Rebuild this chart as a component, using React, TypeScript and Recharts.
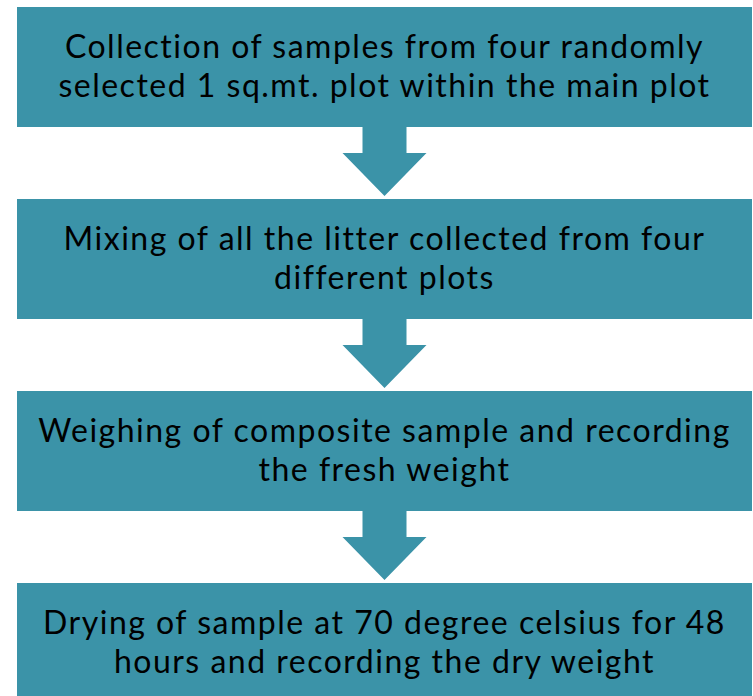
import { BarChart, Bar, XAxis, YAxis, LabelList } from 'recharts';

// four steps of the litter sampling procedure, top to bottom
const steps = ['collect', 'mix', 'weigh', 'dry'];
const stepSpan = [1, 1, 1, 1];
const stepLines = [
  ['Collection of samples from four randomly', 'selected 1 sq.mt. plot within the main plot'],
  ['Mixing of all the litter collected from four', 'different plots'],
  ['Weighing of composite sample and recording', 'the fresh weight'],
  ['Drying of sample at 70 degree celsius for 48', 'hours and recording the dry weight'],
];

const TEAL = '#3b93a8';

const data = steps.map((s, i) => ({ step: s, span: stepSpan[i], lines: stepLines[i] }));

function StepBox(props: any) {
  const { x, y, width, height, index } = props;
  const cx = x + width / 2;
  const yb = y + height;
  const last = index === steps.length - 1;
  const arrow = [
    [cx - 22, yb],
    [cx + 22, yb],
    [cx + 22, yb + 26],
    [cx + 42, yb + 26],
    [cx, yb + 69],
    [cx - 42, yb + 26],
    [cx - 22, yb + 26],
  ].map(p => p.join(',')).join(' ');
  return (
    <g>
      <rect x={x} y={y} width={width} height={height} fill={TEAL} />
      {!last && <polygon points={arrow} fill={TEAL} />}
    </g>
  );
}

function StepText(props: any) {
  const { x, y, width, value } = props;
  const lines: string[] = value || [];
  const cx = x + width / 2;
  return (
    <text
      x={cx}
      y={y + 51}
      textAnchor="middle"
      fill="#000"
      fontSize={32}
      letterSpacing={1.5}
      fontFamily="Lato, sans-serif"
    >
      {lines.map((l, i) => (
        <tspan key={i} x={cx} dy={i === 0 ? 0 : 39}>{l}</tspan>
      ))}
    </text>
  );
}

export default function App() {
  return (
    <div style={{ position: 'fixed', left: 0, top: 0, width: 753, height: 696, overflow: 'hidden', background: '#fff' }}>
      <BarChart
        layout="vertical"
        width={753}
        height={768}
        data={data}
        margin={{ top: 0, right: 1, left: 17, bottom: 0 }}
        style={{ marginTop: -29 }}
      >
        <XAxis type="number" domain={[0, 1]} hide />
        <YAxis type="category" dataKey="step" hide />
        <Bar dataKey="span" barSize={120} shape={StepBox} isAnimationActive={false}>
          <LabelList dataKey="lines" content={StepText} />
        </Bar>
      </BarChart>
    </div>
  );
}
